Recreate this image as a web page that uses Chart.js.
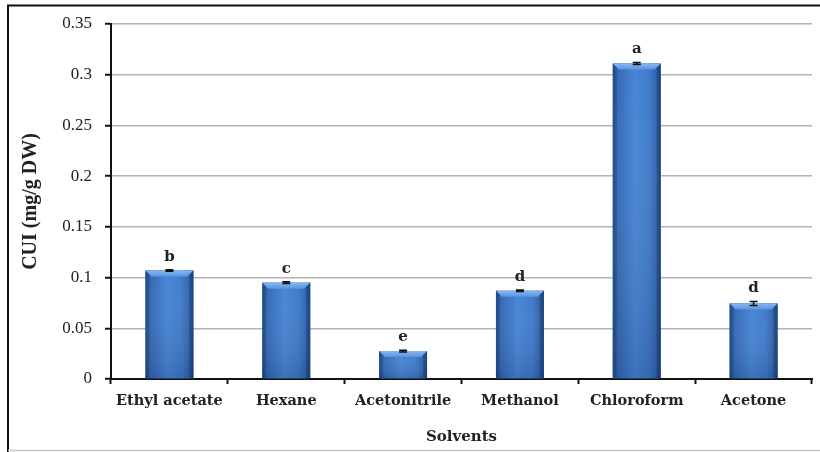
<!DOCTYPE html>
<html>
<head>
<meta charset="utf-8">
<script src="https://cdn.jsdelivr.net/npm/chart.js@4.4.1/dist/chart.umd.min.js"></script>
<style>
  html, body { margin: 0; padding: 0; background: #fff; }
  #wrap { width: 820px; height: 452px; position: relative; }
</style>
</head>
<body>
<div id="wrap"><canvas id="c" width="820" height="452"></canvas></div>
<script>
// Curcuminoid content per extraction solvent
const solvents = ['Ethyl acetate', 'Hexane', 'Acetonitrile', 'Methanol', 'Chloroform', 'Acetone'];
const cuiValues = [0.107, 0.095, 0.0275, 0.087, 0.311, 0.0745];
const cuiErrors = [0.0008, 0.0008, 0.0008, 0.0008, 0.001, 0.002];
const groupLetters = ['b', 'c', 'e', 'd', 'a', 'd'];
const yTickMax = 0.35;
const yTickStep = 0.05;

const serif = "'Liberation Serif', 'Times New Roman', serif";
const wideSerif = "'DejaVu Serif', 'Liberation Serif', serif";

// Frame around the figure
const framePlugin = {
  id: 'frame',
  beforeDraw(chart) {
    const ctx = chart.ctx;
    ctx.save();
    ctx.fillStyle = '#fff';
    ctx.fillRect(0, 0, chart.width, chart.height);
    ctx.strokeStyle = '#111';
    ctx.lineWidth = 2;
    ctx.beginPath();
    ctx.moveTo(8, 452);
    ctx.lineTo(8, 5.5);
    ctx.lineTo(820, 5.5);
    ctx.stroke();
    ctx.strokeStyle = '#c8c8c8';
    ctx.lineWidth = 1.5;
    ctx.beginPath();
    ctx.moveTo(8, 450.5);
    ctx.lineTo(820, 450.5);
    ctx.stroke();
    ctx.restore();
  }
};

// Bevelled bar faces, error bars and significance letters
const barDecor = {
  id: 'barDecor',
  afterDatasetsDraw(chart) {
    const ctx = chart.ctx;
    const meta = chart.getDatasetMeta(0);
    const yScale = chart.scales.y;
    ctx.save();
    meta.data.forEach((bar, i) => {
      const w = bar.width;
      const left = bar.x - w / 2;
      const right = bar.x + w / 2;
      const top = bar.y;
      const bottom = bar.base;
      const h = bottom - top;

      // body: darker edges, lighter middle
      const g = ctx.createLinearGradient(left, 0, right, 0);
      g.addColorStop(0, '#22508f');
      g.addColorStop(0.1, '#3468b3');
      g.addColorStop(0.45, '#4685d6');
      g.addColorStop(0.75, '#3f7bca');
      g.addColorStop(0.9, '#3266b0');
      g.addColorStop(1, '#1f4b86');
      ctx.fillStyle = g;
      ctx.fillRect(left, top, w, h);

      // slight darkening toward the base
      const gv = ctx.createLinearGradient(0, top, 0, bottom);
      gv.addColorStop(0, 'rgba(255,255,255,0)');
      gv.addColorStop(1, 'rgba(10,30,70,0.18)');
      ctx.fillStyle = gv;
      ctx.fillRect(left, top, w, h);

      // top bevel
      const bv = Math.min(6, h / 2);
      const gt = ctx.createLinearGradient(0, top, 0, top + bv);
      gt.addColorStop(0, '#86b8f2');
      gt.addColorStop(1, '#5a94df');
      ctx.fillStyle = gt;
      ctx.beginPath();
      ctx.moveTo(left, top);
      ctx.lineTo(right, top);
      ctx.lineTo(right - bv, top + bv);
      ctx.lineTo(left + bv, top + bv);
      ctx.closePath();
      ctx.fill();

      // side bevels
      ctx.fillStyle = 'rgba(20,50,100,0.35)';
      ctx.beginPath();
      ctx.moveTo(right, top);
      ctx.lineTo(right, bottom);
      ctx.lineTo(right - 4, bottom);
      ctx.lineTo(right - 4, top + 4);
      ctx.closePath();
      ctx.fill();
      ctx.fillStyle = 'rgba(20,50,100,0.25)';
      ctx.beginPath();
      ctx.moveTo(left, top);
      ctx.lineTo(left, bottom);
      ctx.lineTo(left + 4, bottom);
      ctx.lineTo(left + 4, top + 4);
      ctx.closePath();
      ctx.fill();

      // error bar
      const v = cuiValues[i];
      const e = cuiErrors[i];
      const yHi = yScale.getPixelForValue(v + e);
      const yLo = yScale.getPixelForValue(v - e);
      ctx.strokeStyle = '#111';
      ctx.lineWidth = 1.5;
      ctx.beginPath();
      ctx.moveTo(bar.x, yHi);
      ctx.lineTo(bar.x, yLo);
      ctx.moveTo(bar.x - 4, yHi);
      ctx.lineTo(bar.x + 4, yHi);
      ctx.moveTo(bar.x - 4, yLo);
      ctx.lineTo(bar.x + 4, yLo);
      ctx.stroke();

      // letter
      ctx.fillStyle = '#222';
      ctx.font = '600 15px ' + wideSerif;
      ctx.textAlign = 'center';
      ctx.textBaseline = 'middle';
      ctx.fillText(groupLetters[i], bar.x, yHi - 13);
    });
    ctx.restore();
  }
};

new Chart(document.getElementById('c'), {
  type: 'bar',
  data: {
    labels: solvents,
    datasets: [{
      data: cuiValues,
      backgroundColor: '#3b77c6',
      borderWidth: 0,
      categoryPercentage: 1,
      barPercentage: 0.41
    }]
  },
  options: {
    responsive: false,
    animation: false,
    events: [],
    layout: { padding: { left: 8, top: 24, right: 8, bottom: 0 } },
    plugins: { legend: { display: false }, tooltip: { enabled: false } },
    scales: {
      x: {
        afterFit(scale) { scale.height = 73; },
        border: { display: true, color: '#111', width: 2 },
        grid: { drawOnChartArea: false, drawTicks: true, tickLength: 5, tickColor: '#111', tickWidth: 2, offset: true },
        ticks: { color: '#222', padding: 9, font: { family: wideSerif, size: 14.5, weight: 'bold' }, maxRotation: 0 },
        title: { display: true, text: 'Solvents', color: '#222', font: { family: wideSerif, size: 15, weight: 'bold' }, padding: { top: 4, bottom: 6 } }
      },
      y: {
        min: 0,
        max: yTickMax,
        afterFit(scale) { scale.width = 103; },
        border: { display: true, color: '#111', width: 2 },
        grid: { color: '#b4b4b4', lineWidth: 1.5, drawTicks: true, tickLength: 6, tickColor: '#111', tickWidth: 2 },
        ticks: {
          stepSize: yTickStep,
          color: '#222',
          padding: 13,
          font: { family: serif, size: 17 },
          callback: (v) => String(+v.toFixed(2))
        },
        title: { display: true, text: 'CUI (mg/g DW)', color: '#222', font: { family: serif, size: 20, weight: 'bold' }, padding: { top: 11, bottom: 0 } }
      }
    }
  },
  plugins: [framePlugin, barDecor]
});
</script>
</body>
</html>
